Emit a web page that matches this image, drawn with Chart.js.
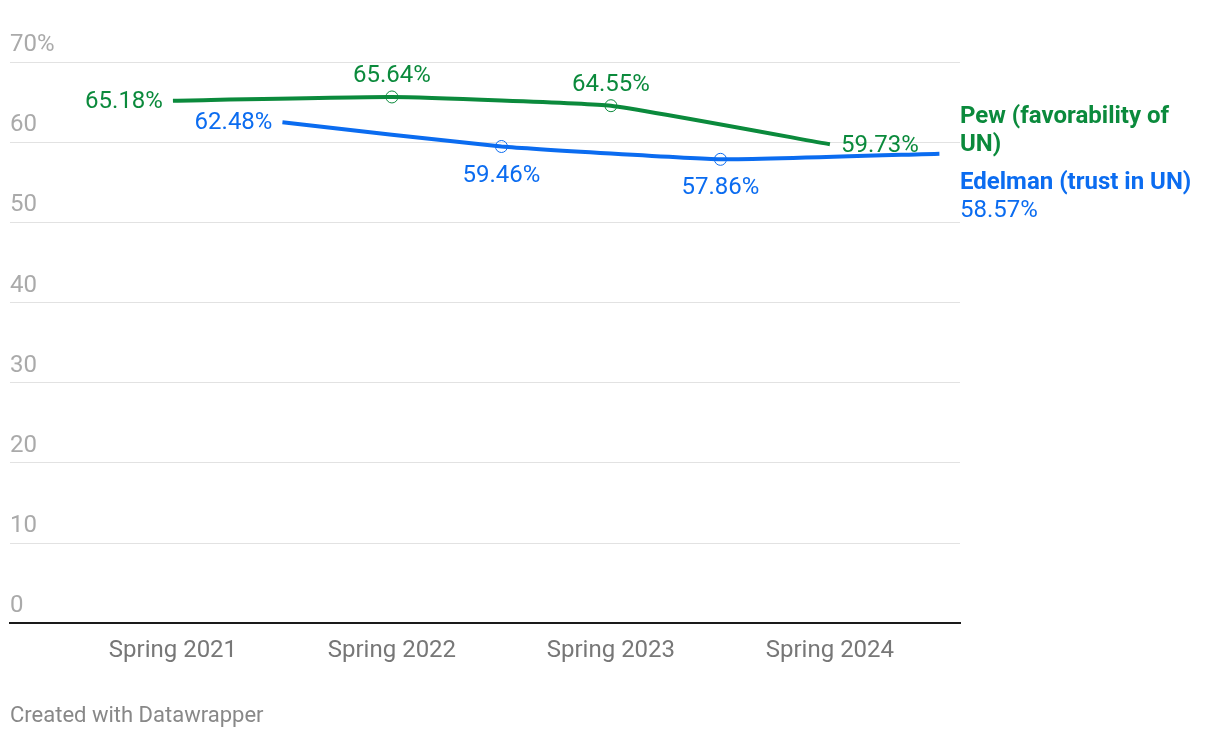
<!DOCTYPE html>
<html>
<head>
<meta charset="utf-8">
<script src="https://cdn.jsdelivr.net/npm/chart.js@4"></script>
<style>
    html, body { margin: 0; padding: 0; background: #fff; }
    #wrap { position: relative; width: 1220px; height: 738px; }
</style>
</head>
<body>
<div id="wrap"><canvas id="chart"></canvas></div>
<script>
// years: Pew is surveyed in spring, Edelman half a year later
const pewYears = [2021, 2022, 2023, 2024];
const pewValues = [65.18, 65.64, 64.55, 59.73];
const edelmanYears = [2021.5, 2022.5, 2023.5, 2024.5];
const edelmanValues = [62.48, 59.46, 57.86, 58.57];
const xTickYears = [2021, 2022, 2023, 2024];
const yTicks = [0, 10, 20, 30, 40, 50, 60, 70];

const green = '#0b8a3c';
const blue = '#0b6cf0';
const font = 'Roboto, "Noto Sans", sans-serif';

// where each value label goes relative to its point
const pewLabelPos = ['left', 'above', 'above', 'right'];
const edelmanLabelPos = ['left', 'below', 'below', 'none'];

const labelsPlugin = {
    id: 'labels',
    afterDatasetsDraw(chart) {
        const ctx = chart.ctx;
        const y = chart.scales.y;
        const area = chart.chartArea;
        ctx.save();

        // y tick labels sit above their grid lines
        ctx.font = '24px ' + font;
        ctx.fillStyle = '#aaaaaa';
        ctx.textAlign = 'left';
        ctx.textBaseline = 'middle';
        yTicks.forEach(v => {
            ctx.fillText(v === 70 ? '70%' : String(v), area.left, y.getPixelForValue(v) - 17);
        });

        // value labels
        ctx.font = '24px ' + font;
        const drawLabels = (index, values, positions, color) => {
            const meta = chart.getDatasetMeta(index);
            ctx.fillStyle = color;
            meta.data.forEach((pt, i) => {
                const text = values[i].toFixed(2) + '%';
                const pos = positions[i];
                if (pos === 'left') {
                    ctx.textAlign = 'right';
                    ctx.fillText(text, pt.x - 10, pt.y + 1);
                } else if (pos === 'right') {
                    ctx.textAlign = 'left';
                    ctx.fillText(text, pt.x + 11, pt.y + 2);
                } else if (pos === 'above') {
                    ctx.textAlign = 'center';
                    ctx.fillText(text, pt.x, pt.y - 21);
                } else if (pos === 'below') {
                    ctx.textAlign = 'center';
                    ctx.fillText(text, pt.x, pt.y + 29);
                }
            });
        };
        drawLabels(0, pewValues, pewLabelPos, green);
        drawLabels(1, edelmanValues, edelmanLabelPos, blue);

        // series names on the right
        const rx = area.right;
        ctx.textAlign = 'left';
        ctx.font = 'bold 24px ' + font;
        ctx.fillStyle = green;
        ctx.fillText('Pew (favorability of', rx, 117);
        ctx.fillText('UN)', rx, 145);
        ctx.fillStyle = blue;
        ctx.fillText('Edelman (trust in UN)', rx, 183);
        ctx.font = '24px ' + font;
        ctx.fillText(edelmanValues[edelmanValues.length - 1].toFixed(2) + '%', rx, 211);

        // footer
        ctx.font = '22px ' + font;
        ctx.fillStyle = '#888888';
        ctx.fillText('Created with Datawrapper', 10, 716);
        ctx.restore();
    }
};

const ctx = document.getElementById('chart').getContext('2d');
const chart = new Chart(ctx, {
    type: 'line',
    data: {
        datasets: [{
            label: 'Pew (favorability of UN)',
            data: pewYears.map((x, i) => ({ x, y: pewValues[i] })),
            borderColor: green,
            borderWidth: 4,
            tension: 0.12,
            pointRadius: [0, 6, 6, 0],
            pointBorderWidth: 1,
            pointBorderColor: green,
            pointBackgroundColor: 'rgba(0,0,0,0)'
        }, {
            label: 'Edelman (trust in UN)',
            data: edelmanYears.map((x, i) => ({ x, y: edelmanValues[i] })),
            borderColor: blue,
            borderWidth: 4,
            tension: 0.12,
            pointRadius: [0, 6, 6, 0],
            pointBorderWidth: 1,
            pointBorderColor: blue,
            pointBackgroundColor: 'rgba(0,0,0,0)'
        }]
    },
    options: {
        responsive: true,
        maintainAspectRatio: false,
        animation: false,
        layout: { padding: { left: 10, right: 260, top: 62, bottom: 60 } },
        plugins: { legend: { display: false }, tooltip: { enabled: false } },
        scales: {
            x: {
                type: 'linear',
                min: 2020.256,
                max: 2024.594,
                afterBuildTicks: axis => { axis.ticks = xTickYears.map(v => ({ value: v })); },
                grid: { display: false, drawTicks: false },
                border: { display: true, color: '#1a1a1a', width: 2 },
                ticks: {
                    padding: 13,
                    color: '#777777',
                    font: { family: font, size: 24 },
                    maxRotation: 0,
                    autoSkip: false,
                    callback: v => 'Spring ' + v
                }
            },
            y: {
                min: 0,
                max: 70,
                afterBuildTicks: axis => { axis.ticks = yTicks.map(v => ({ value: v })); },
                grid: { color: '#e2e2e2', lineWidth: 1, drawTicks: false },
                border: { display: false },
                ticks: { display: false }
            }
        }
    },
    plugins: [labelsPlugin]
});
</script>
</body>
</html>
